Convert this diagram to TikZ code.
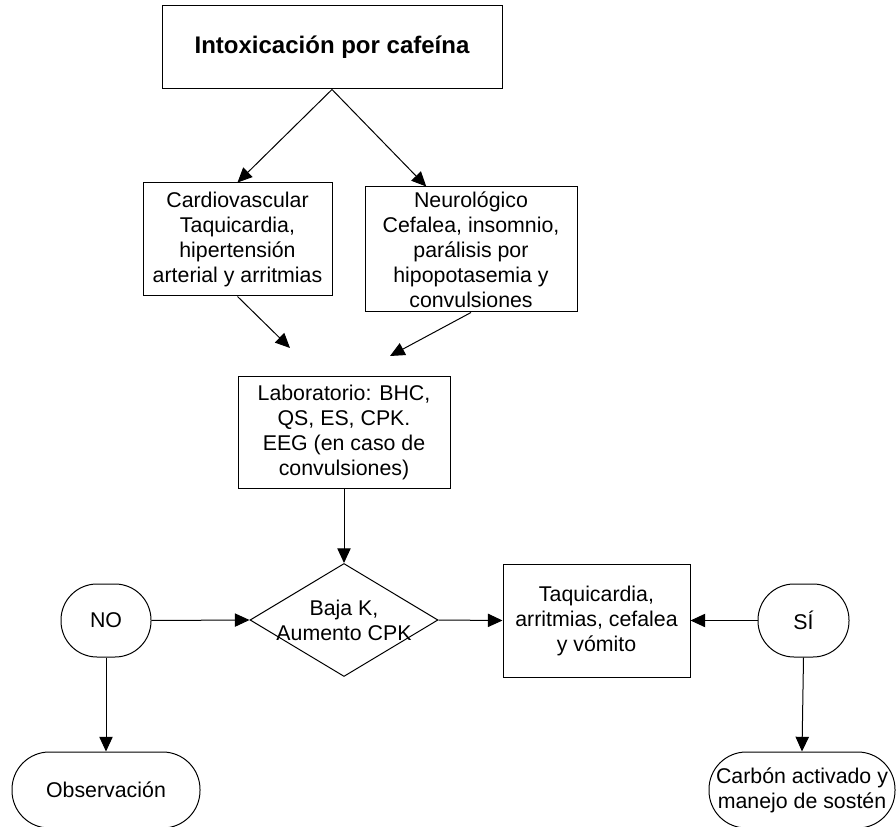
\documentclass[tikz,border=0pt]{standalone}
\usepackage{fontspec}
\setmainfont{Liberation Sans}
\usetikzlibrary{shapes.geometric,arrows.meta,calc}

\begin{document}
\begin{tikzpicture}[x=0.75pt, y=-0.75pt,
    >={Triangle[length=11pt,width=10pt]},
    every node/.style={font=\fontsize{16}{18.75}\selectfont, align=center, inner sep=0pt},
    box/.style={draw, line width=0.75pt},
    term/.style={draw, line width=0.75pt, rounded corners=27pt},
    link/.style={->, line width=0.75pt}]
    \clip (0,0) rectangle (896,827);

    % Inicio
    \node[box, minimum width=255pt, minimum height=62.25pt,
          font=\fontsize{18}{21}\selectfont\bfseries] (tox) at (332,47.5) {Intoxicación por cafeína};

    % Cuadro clinico
    \node[box, minimum width=141.75pt, minimum height=84.75pt] (cardio) at (237.5,239.5)
        {Cardiovascular\\Taquicardia,\\hipertensión\\arterial y arritmias};
    \node[box, minimum width=159pt, minimum height=93.75pt] (neuro) at (471,249.5)
        {Neurológico\\Cefalea, insomnio,\\parálisis por\\hipopotasemia y\\convulsiones};

    \draw[link] (tox.south) -- (cardio.north);
    \draw[link] (tox.south) -- ($(neuro.north west)!0.29!(neuro.north east)$);

    \coordinate (c1) at (290,348);
    \coordinate (n1) at (390,356);
    \draw[link] (cardio.south) -- (c1);
    \draw[link] (neuro.south) -- (n1);

    % Laboratorio
    \node[box, minimum width=159pt, minimum height=84pt] (lab) at (344,432)
        {Laboratorio: BHC,\\QS, ES, CPK.\\EEG (en caso de\\convulsiones)};

    % Decision
    \node[box, diamond, minimum width=141pt, minimum height=84.75pt] (dec) at (344,620) {};
    \node (dectext) at (dec.center) {Baja K,\\Aumento CPK};
    \draw[link] (lab.south) -- (dec.north);

    \node[box, minimum width=140.25pt, minimum height=84.75pt] (taqui) at (596.5,620.5)
        {Taquicardia,\\arritmias, cefalea\\y vómito};
    \draw[link] (dec.east) -- (taqui.west);

    % Respuestas
    \node[term, minimum width=67.5pt, minimum height=54.75pt] (no) at (106,620.5) {NO};
    \node[term, minimum width=68.25pt, minimum height=54.75pt] (si) at (803.5,620.5) {SÍ};
    \draw[link] (no.east) -- (dec.west);
    \draw[link] (si.west) -- (taqui.east);

    \node[term, rounded corners=28pt, minimum width=141pt, minimum height=57pt] (obs) at (106,790)
        {Observación};
    \node[term, rounded corners=28pt, minimum width=139.5pt, minimum height=57pt] (carbon) at (802,790)
        {Carbón activado y\\manejo de sostén};
    \draw[link] (no.south) -- (obs.north);
    \draw[link] (si.south) -- (carbon.north);
\end{tikzpicture}
\end{document}
